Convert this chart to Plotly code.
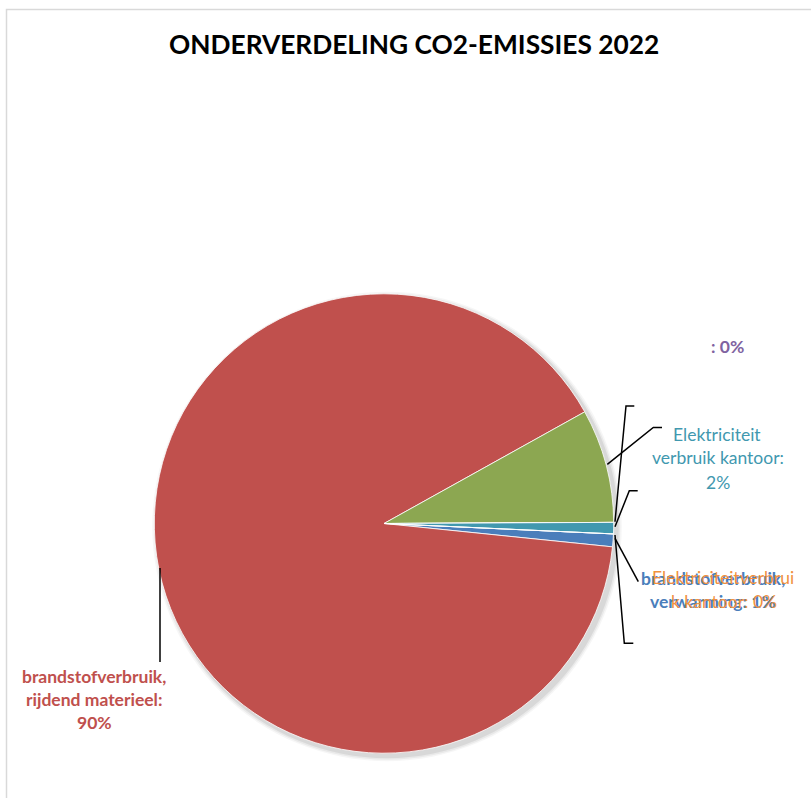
import plotly.graph_objects as go

W, H = 811, 798

# ---------------- data ----------------
categories = [
    "brandstofverbruik, verwarming",
    "brandstofverbruik, rijdend materieel",
    "Elektriciteit verbruik kantoor (groen)",
    "(leeg)",
    "Elektriciteit verbruik kantoor",
    "Elektriciteitverbruik kantoor",
]
values = [0.9, 90.3, 8.0, 0.0, 0.8, 0.0]
colors = ["#4A7EBB", "#C0504D", "#8CA751", "#7F63A1", "#4198AF", "#F0913F"]

title_text = "ONDERVERDELING CO2-EMISSIES 2022"

label_lines = [
    ["brandstofverbruik,", "verwarming: 1%"],
    ["brandstofverbruik,", "rijdend materieel:", "90%"],
    ["Elektriciteit", "verbruik kantoor:", "2%"],
    [": 0%"],
    ["Elektriciteitverbrui", "k kantoor: 0%"],
]
label_colors = ["#4A7EBB", "#C0504D", "#4198AF", "#7F63A1", "#F0913F"]
label_bold = [True, True, False, True, False]

# ---------------- layout constants (px) ----------------
CX, CY, R = 384.0, 523.5, 229.7
FONT = "Lato"
LABEL_SIZE = 17.5


def px(x):
    return x / W


def py(y):
    return 1 - y / H


def dom(cx, cy, r):
    return dict(x=[px(cx - r), px(cx + r)], y=[py(cy + r), py(cy - r)])


fig = go.Figure()

# soft shadow behind the pie
for dr, op in [(5, 0.035), (3.5, 0.05), (2, 0.07)]:
    fig.add_trace(go.Pie(
        values=[1], labels=["shadow"], sort=False,
        marker=dict(colors=[f"rgba(0,0,0,{op})"], line=dict(width=0)),
        textinfo="none", hoverinfo="skip", showlegend=False,
        domain=dom(CX + 3, CY + 3, R + dr),
    ))

fig.add_trace(go.Pie(
    labels=categories, values=values, sort=False, direction="clockwise",
    rotation=92.6,
    marker=dict(colors=colors, line=dict(color="rgba(255,255,255,0.8)", width=1)),
    textinfo="none", hoverinfo="label+percent", showlegend=False,
    domain=dom(CX, CY, R),
))

# label positions: per label, list of (x, y) centres of each line
label_pos = [
    [(713.0, 578.0), (712.5, 601.7)],
    [(94.3, 676.0), (94.3, 699.3), (94.3, 722.0)],
    [(717.0, 434.0), (718.0, 457.5), (717.5, 482.0)],
    [(727.5, 346.7)],
    [(723.3, 577.0), (723.7, 601.7)],
]

annotations = [dict(
    text=f"<b>{title_text}</b>", x=px(414), y=py(44), xref="paper", yref="paper",
    xanchor="center", yanchor="middle", showarrow=False,
    font=dict(family=FONT, size=26.3, color="#000000"),
)]
for lines, pos, col, bold in zip(label_lines, label_pos, label_colors, label_bold):
    for t, (x, y) in zip(lines, pos):
        annotations.append(dict(
            text=f"<b>{t}</b>" if bold else t, x=px(x), y=py(y),
            xref="paper", yref="paper", xanchor="center", yanchor="middle",
            showarrow=False, font=dict(family=FONT, size=LABEL_SIZE, color=col),
        ))

# leader lines (px)
leaders = [
    [(160, 568), (160, 662)],
    [(607.3, 464.3), (653.3, 427.5), (662, 427.5)],
    [(615, 521.7), (626, 406), (634.3, 406)],
    [(615, 526.7), (629.3, 490.7), (637.7, 490.7)],
    [(615, 538.3), (638.3, 581.7)],
    [(615, 535), (624.3, 643.3), (633.3, 643.3)],
]
shapes = []
for pts in leaders:
    d = "M " + " L ".join(f"{px(x)},{py(y)}" for x, y in pts)
    shapes.append(dict(type="path", path=d, xref="paper", yref="paper",
                       line=dict(color="#000000", width=1.5)))

# chart frame (left and top edges visible)
shapes.append(dict(type="path",
                   path=f"M {px(6.5)},{py(800)} L {px(6.5)},{py(9.5)} L {px(812)},{py(9.5)}",
                   xref="paper", yref="paper",
                   line=dict(color="#D9D9D9", width=1.5)))

fig.update_layout(
    width=W, height=H, margin=dict(l=0, r=0, t=0, b=0),
    paper_bgcolor="white", plot_bgcolor="white",
    annotations=annotations, shapes=shapes,
)

fig.write_html("out.html",
               config={"displayModeBar": False},
               post_script="document.body.style.margin='0';document.body.style.overflow='hidden';")
